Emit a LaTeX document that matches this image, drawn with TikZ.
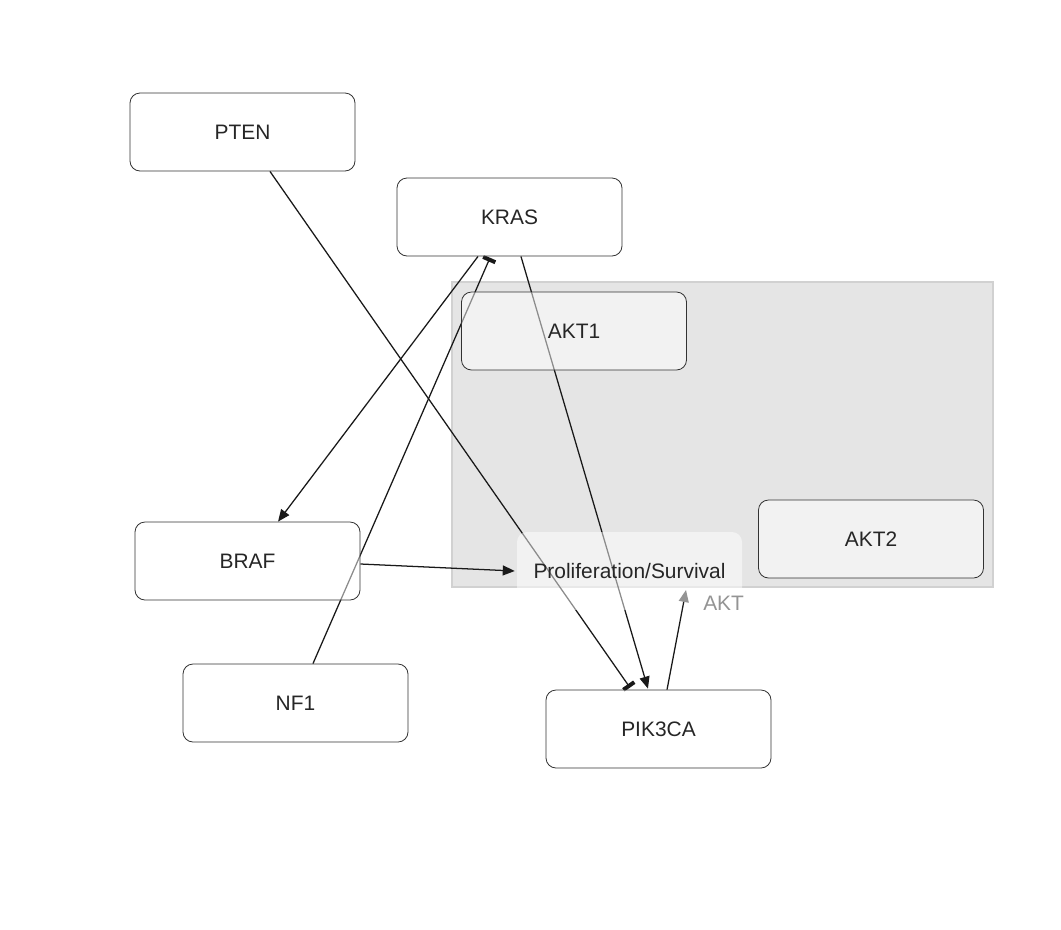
\documentclass[tikz,border=0pt]{standalone}
\usepackage{fontspec}
\setmainfont{Liberation Sans}
\usetikzlibrary{arrows.meta}
\begin{document}
\begin{tikzpicture}[x=0.75pt,y=-0.75pt,
  gene/.style={draw=black!80, line width=0.6pt, rounded corners=7.5pt, fill=white, fill opacity=0.5, text opacity=1,
    minimum width=168.75pt, minimum height=58.5pt, inner sep=0pt, text=black!85,
    font=\fontsize{15.7}{18}\selectfont},
  outcome/.style={rounded corners=7.5pt, fill=white, fill opacity=0.5, text opacity=1,
    minimum width=168.75pt, minimum height=58.5pt, inner sep=0pt, text=black!85,
    font=\fontsize{15.7}{18}\selectfont},
  act/.style={line width=0.95pt, black!90, -{Triangle[length=9pt,width=7.5pt]}},
  inh/.style={line width=0.95pt, black!90, -{Bar[width=10pt,line width=3pt]}},
  grp/.style={draw=black!18, line width=1.1pt, fill=black!10},
]
\useasboundingbox (0,0) rectangle (1061,929);
% group (background)
\node[grp, minimum width=405.75pt, minimum height=228.75pt, inner sep=0pt] (grp) at (722.5,434.5) {};
% positions
\path (242.5,132) coordinate (cPTEN)
      (509.5,217) coordinate (cKRAS)
      (574,331) coordinate (cAKT1)
      (871,539) coordinate (cAKT2)
      (247.5,561) coordinate (cBRAF)
      (295.5,703) coordinate (cNF1)
      (658.5,729) coordinate (cPIK)
      (629.5,571) coordinate (cPRO);
% invisible helper nodes for anchoring
\node[gene, draw=none, fill=none, text opacity=0] (pten0) at (cPTEN) {PTEN};
\node[gene, draw=none, fill=none, text opacity=0] (kras0) at (cKRAS) {KRAS};
\node[gene, draw=none, fill=none, text opacity=0] (braf0) at (cBRAF) {BRAF};
\node[gene, draw=none, fill=none, text opacity=0] (nf10) at (cNF1) {NF1};
\node[gene, draw=none, fill=none, text opacity=0] (pik0) at (cPIK) {PIK3CA};
\node[outcome, fill=none, text opacity=0] (pro0) at (cPRO) {Proliferation/Survival};
\coordinate (aktend) at (686,590);
% edges
\draw[inh] ([xshift=20.6pt]pten0.south) -- ([xshift=-21.4pt,yshift=1.5pt]pik0.north);
\draw[act] ([xshift=-23.6pt]kras0.south) -- ([xshift=22.9pt]braf0.north);
\draw[inh] ([xshift=13.1pt]nf10.north) -- ([xshift=-14.6pt,yshift=-1pt]kras0.south);
\draw[act] ([xshift=8.6pt]kras0.south) -- ([xshift=-7.9pt,yshift=0.75pt]pik0.north);
\draw[act] ([yshift=-2.25pt]braf0.east) -- ([xshift=-1.5pt]pro0.west);
% nodes
\node[gene] (PTEN) at (cPTEN) {PTEN};
\node[gene] (KRAS) at (cKRAS) {KRAS};
\node[gene] (AKT1) at (cAKT1) {AKT1};
\node[gene] (AKT2) at (cAKT2) {AKT2};
\node[gene] (BRAF) at (cBRAF) {BRAF};
\node[gene] (NF1) at (cNF1) {NF1};
\node[gene] (PIK3CA) at (cPIK) {PIK3CA};
\node[outcome] (PRO) at (cPRO) {Proliferation/Survival};
% AKT edge on top
\draw[line width=0.95pt, black!90, -{Triangle[length=9pt,width=7.5pt,color=black!42]}] ([xshift=6.4pt]PIK3CA.north) -- (aktend)
  node[pos=0.87, right=11pt, text=black!42, font=\fontsize{15.7}{18}\selectfont] (aktlbl) {AKT};
\end{tikzpicture}
\end{document}
